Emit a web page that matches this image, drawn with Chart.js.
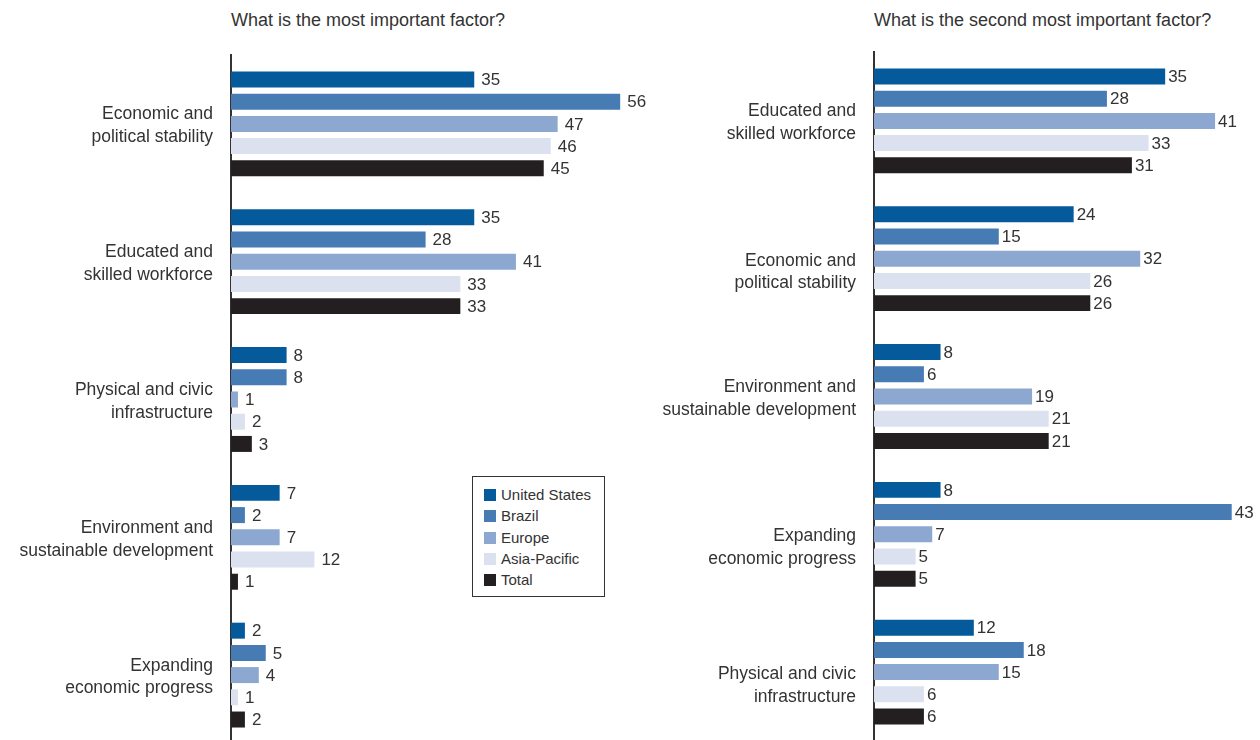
<!DOCTYPE html>
<html>
<head>
<meta charset="utf-8">
<script src="https://cdn.jsdelivr.net/npm/chart.js@4.4.1/dist/chart.umd.min.js"></script>
<style>
  html, body { margin:0; padding:0; background:#fff; width:1260px; height:740px; overflow:hidden; }
  body { position:relative; font-family:"Liberation Sans", Arial, sans-serif; color:#333; }
  .title { position:absolute; top:10px; font-size:18px; color:#333; white-space:nowrap; }
  #wrapL { position:absolute; left:0; top:0; width:660px; height:744px; }
  #wrapR { position:absolute; left:640px; top:0; width:620px; height:741px; }
  #legend { position:absolute; left:472px; top:476px; width:131px; height:119px; border:1px solid #333; background:#fff;
            box-sizing:content-box; padding:0; }
  #legend .item { position:absolute; left:11px; font-size:15px; line-height:18px; color:#333; white-space:nowrap; }
  #legend .sw { display:inline-block; width:12px; height:12px; vertical-align:-1px; margin-right:5px; }
</style>
</head>
<body>
<div class="title" style="left:231px">What is the most important factor?</div>
<div class="title" style="left:874px">What is the second most important factor?</div>
<div id="wrapR"><canvas id="right"></canvas></div>
<div id="wrapL"><canvas id="left"></canvas></div>
<div id="legend"></div>
<script>
// ---- data ----
const seriesNames = ["United States", "Brazil", "Europe", "Asia-Pacific", "Total"];
const seriesColors = ["#045a9b", "#467bb4", "#8ca8d0", "#dbe1ee", "#231f20"];

const leftCategories = [
  ["Economic and", "political stability"],
  ["Educated and", "skilled workforce"],
  ["Physical and civic", "infrastructure"],
  ["Environment and", "sustainable development"],
  ["Expanding", "economic progress"]
];
const leftUS      = [35, 35, 8, 7, 2];
const leftBrazil  = [56, 28, 8, 2, 5];
const leftEurope  = [47, 41, 1, 7, 4];
const leftAsia    = [46, 33, 2, 12, 1];
const leftTotal   = [45, 33, 3, 1, 2];

// (a leading empty line drops a label half a line, as in the original layout)
const rightCategories = [
  ["Educated and", "skilled workforce"],
  ["", "Economic and", "political stability"],
  ["Environment and", "sustainable development"],
  ["", "Expanding", "economic progress"],
  ["", "Physical and civic", "infrastructure"]
];
const rightUS     = [35, 24, 8, 8, 12];
const rightBrazil = [28, 15, 6, 43, 18];
const rightEurope = [41, 32, 19, 7, 15];
const rightAsia   = [33, 26, 21, 5, 6];
const rightTotal  = [31, 26, 21, 5, 6];

// ---- legend ----
const leg = document.getElementById('legend');
seriesNames.forEach((n, i) => {
  const d = document.createElement('div');
  d.className = 'item';
  d.style.top = (9 + i * 21.3) + 'px';
  d.innerHTML = '<span class="sw" style="background:' + seriesColors[i] + '"></span>' + n;
  leg.appendChild(d);
});

// ---- value label plugin ----
const valueLabels = {
  id: 'valueLabels',
  afterDatasetsDraw(chart, args, opts) {
    const ctx = chart.ctx;
    ctx.save();
    ctx.font = '17px "Liberation Sans", Arial, sans-serif';
    ctx.fillStyle = '#333';
    ctx.textAlign = 'left';
    ctx.textBaseline = 'middle';
    chart.data.datasets.forEach((ds, di) => {
      chart.getDatasetMeta(di).data.forEach((bar, i) => {
        ctx.fillText(String(ds.data[i]), bar.x + opts.gap, bar.y + 1);
      });
    });
    ctx.restore();
  }
};

function makeChart(id, cats, values, xmax, axisWidth, padTop, padRight, gap) {
  return new Chart(document.getElementById(id), {
    type: 'bar',
    data: {
      labels: cats,
      datasets: values.map((v, i) => ({
        label: seriesNames[i],
        data: v,
        backgroundColor: seriesColors[i],
        borderWidth: 0,
        categoryPercentage: 0.806,
        barPercentage: 0.72
      }))
    },
    options: {
      indexAxis: 'y',
      responsive: true,
      maintainAspectRatio: false,
      animation: false,
      events: [],
      layout: { padding: { top: padTop, right: padRight, bottom: 0, left: 0 } },
      plugins: {
        legend: { display: false },
        tooltip: { enabled: false },
        title: { display: false },
        valueLabels: { gap: gap }
      },
      scales: {
        x: { display: false, min: 0, max: xmax },
        y: {
          afterFit(s) { s.width = axisWidth; s.paddingTop = 0; s.paddingBottom = 0; },
          grid: { display: false, drawTicks: false },
          border: { display: true, color: '#333', width: 2 },
          ticks: {
            color: '#333',
            padding: 18,
            labelOffset: 2,
            font: { family: '"Liberation Sans", Arial, sans-serif', size: 17.5, lineHeight: 1.3 }
          }
        }
      }
    },
    plugins: [valueLabels]
  });
}

makeChart('left', leftCategories,
  [leftUS, leftBrazil, leftEurope, leftAsia, leftTotal], 58.85, 231, 55, 20, 7);
makeChart('right', rightCategories,
  [rightUS, rightBrazil, rightEurope, rightAsia, rightTotal], 46.4, 234, 52, 0, 3);
</script>
</body>
</html>
